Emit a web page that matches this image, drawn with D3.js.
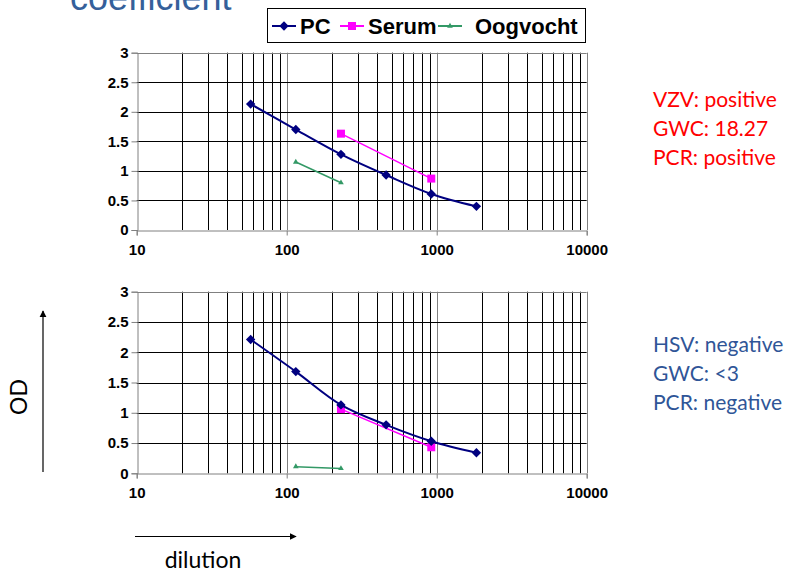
<!DOCTYPE html>
<html>
<head>
<meta charset="utf-8">
<script src="https://cdn.jsdelivr.net/npm/d3@7"></script>
<style>
  body { margin: 0; background: #fff; }
  svg { display: block; }
</style>
</head>
<body>
<div id="chart"></div>
<script>
// dilution steps (x) and OD readings
const pcX = [57.5, 115, 230, 460, 920, 1840];
const serumX = [230, 920];
const oogX = [115, 230];

const topPC = [2.13, 1.70, 1.28, 0.93, 0.61, 0.40];
const topSerum = [1.63, 0.87];
const topOog = [1.15, 0.80];

const botPC = [2.21, 1.68, 1.13, 0.80, 0.53, 0.34];
const botSerum = [1.06, 0.43];
const botOog = [0.11, 0.08];

const xTicks = [10, 100, 1000, 10000];
const yTicks = [0, 0.5, 1, 1.5, 2, 2.5, 3];

const legendNames = ["PC", "Serum", "Oogvocht"];
const topNotes = ["VZV: positive", "GWC: 18.27", "PCR: positive"];
const botNotes = ["HSV: negative", "GWC: <3", "PCR: negative"];

const width = 789, height = 573;
const colors = { PC: "#000080", Serum: "#FF00FF", Oogvocht: "#339966" };

const svg = d3.select("#chart").append("svg")
    .attr("width", width)
    .attr("height", height);

// title, cut off at the top edge like in the slide
svg.append("text")
    .attr("x", 70).attr("y", 10)
    .style("font-family", "Liberation Sans, Arial, sans-serif")
    .style("font-size", "36px")
    .style("fill", "#35609A")
    .text("coefficient");

let x = d3.scaleLog().domain([10, 10000]).range([136.7, 586.7]);

// draws a marker shape at (cx, cy)
function marker(g, type, cx, cy) {
    if (type === "PC") {
        g.append("path")
            .attr("d", d3.symbol().type(d3.symbolSquare).size(44)())
            .attr("transform", "translate(" + cx + "," + cy + ") rotate(45)")
            .style("fill", colors.PC);
    } else if (type === "Serum") {
        g.append("rect")
            .attr("x", cx - 4).attr("y", cy - 4)
            .attr("width", 8).attr("height", 8)
            .style("fill", colors.Serum);
    } else {
        g.append("path")
            .attr("d", d3.symbol().type(d3.symbolTriangle).size(14)())
            .attr("transform", "translate(" + cx + "," + cy + ")")
            .style("fill", colors.Oogvocht);
    }
}

function panel(y0, y1, pc, serum, oog) {
    let y = d3.scaleLinear().domain([0, 3]).range([y0, y1]);
    let g = svg.append("g");

    // vertical log grid
    let minor = [];
    for (let d = 10; d < 10000; d *= 10) {
        for (let k = 2; k <= 9; k++) minor.push(d * k);
    }
    g.selectAll(".vminor").data(minor).enter().append("line")
        .attr("x1", d => Math.round(x(d)) + 0.5).attr("x2", d => Math.round(x(d)) + 0.5)
        .attr("y1", y(3)).attr("y2", y(0))
        .style("stroke", "#000").style("stroke-width", 1);
    g.selectAll(".vmajor").data([100, 1000, 10000]).enter().append("line")
        .attr("x1", d => Math.round(x(d)) + 0.5).attr("x2", d => Math.round(x(d)) + 0.5)
        .attr("y1", y(3)).attr("y2", y(0))
        .style("stroke", "#808080").style("stroke-width", 1);

    // horizontal grid
    g.selectAll(".hgrid").data(yTicks.filter(d => d > 0)).enter().append("line")
        .attr("x1", x(10)).attr("x2", x(10000))
        .attr("y1", d => Math.round(y(d)) + 0.5).attr("y2", d => Math.round(y(d)) + 0.5)
        .style("stroke", d => d === 3 ? "#808080" : "#000").style("stroke-width", 1);

    // axes
    let yAxis = d3.axisLeft(y).tickValues(yTicks).tickSize(6).tickFormat(d3.format("~g"));
    let xAxis = d3.axisBottom(x).tickValues(xTicks).tickSize(5).tickFormat(d3.format("d"));

    let ya = g.append("g")
        .attr("transform", "translate(" + (Math.round(x(10)) + 0.5) + ",0)")
        .call(yAxis);
    let xa = g.append("g")
        .attr("transform", "translate(0," + (Math.round(y(0)) + 0.5) + ")")
        .call(xAxis);

    [ya, xa].forEach(a => {
        a.select(".domain").style("stroke", "#808080");
        a.selectAll(".tick line").style("stroke", "#808080");
        a.selectAll("text")
            .style("font-family", "Liberation Sans, Arial, sans-serif")
            .style("font-size", "15px")
            .style("font-weight", "bold")
            .style("fill", "#000");
    });
    ya.selectAll("text").attr("x", -9);
    xa.selectAll("text").attr("y", 14);

    // series
    let line = d3.line().x(d => x(d[0])).y(d => y(d[1]));
    let series = [
        { name: "Oogvocht", xs: oogX, ys: oog, w: 1.5, curve: d3.curveLinear },
        { name: "Serum", xs: serumX, ys: serum, w: 1.5, curve: d3.curveLinear },
        { name: "PC", xs: pcX, ys: pc, w: 2, curve: d3.curveCatmullRom }
    ];
    series.forEach(s => {
        let pts = s.xs.map((v, i) => [v, s.ys[i]]);
        g.append("path")
            .attr("d", line.curve(s.curve)(pts))
            .style("fill", "none")
            .style("stroke", colors[s.name])
            .style("stroke-width", s.w);
        pts.forEach(p => marker(g, s.name, x(p[0]), y(p[1])));
    });
}

panel(230, 52.7, topPC, topSerum, topOog);
panel(473.3, 291.7, botPC, botSerum, botOog);

// legend
let lg = svg.append("g");
lg.append("rect")
    .attr("x", 267.5).attr("y", 8.5)
    .attr("width", 318).attr("height", 34)
    .style("fill", "#fff").style("stroke", "#000");
let legendPos = [272, 340, 438];
let legendText = [300, 368, 475];
legendNames.forEach((n, i) => {
    lg.append("line")
        .attr("x1", legendPos[i]).attr("x2", legendPos[i] + 24)
        .attr("y1", 26).attr("y2", 26)
        .style("stroke", colors[n]).style("stroke-width", 2);
    marker(lg, n, legendPos[i] + 12, 26);
    lg.append("text")
        .attr("x", legendText[i]).attr("y", 34)
        .style("font-family", "Liberation Sans, Arial, sans-serif")
        .style("font-size", "22px")
        .style("font-weight", "bold")
        .text(n);
});

// side notes
function notes(lines, y0, color) {
    svg.append("g").selectAll("text").data(lines).enter().append("text")
        .attr("x", 653)
        .attr("y", (d, i) => y0 + i * 29)
        .style("font-family", "Lato, sans-serif")
        .style("font-size", "21px")
        .style("fill", color)
        .text(d => d);
}
notes(topNotes, 107, "#FF0000");
notes(botNotes, 352, "#2F5597");

// OD and dilution arrows
svg.append("defs").append("marker")
    .attr("id", "arrow")
    .attr("viewBox", "0 0 10 10")
    .attr("refX", 9).attr("refY", 5)
    .attr("markerWidth", 6).attr("markerHeight", 6)
    .attr("orient", "auto")
    .append("path").attr("d", "M0,0L10,5L0,10z").style("fill", "#000");

svg.append("line")
    .attr("x1", 43).attr("x2", 43).attr("y1", 472).attr("y2", 311)
    .style("stroke", "#000").style("stroke-width", 1.2)
    .attr("marker-end", "url(#arrow)");
svg.append("line")
    .attr("x1", 135).attr("x2", 296).attr("y1", 536.5).attr("y2", 536.5)
    .style("stroke", "#000").style("stroke-width", 1.2)
    .attr("marker-end", "url(#arrow)");

svg.append("text")
    .attr("transform", "translate(27,397) rotate(-90)")
    .attr("text-anchor", "middle")
    .style("font-family", "Lato, sans-serif")
    .style("font-size", "23px")
    .text("OD");
svg.append("text")
    .attr("x", 203).attr("y", 568)
    .attr("text-anchor", "middle")
    .style("font-family", "Lato, sans-serif")
    .style("font-size", "23px")
    .text("dilution");
</script>
</body>
</html>
